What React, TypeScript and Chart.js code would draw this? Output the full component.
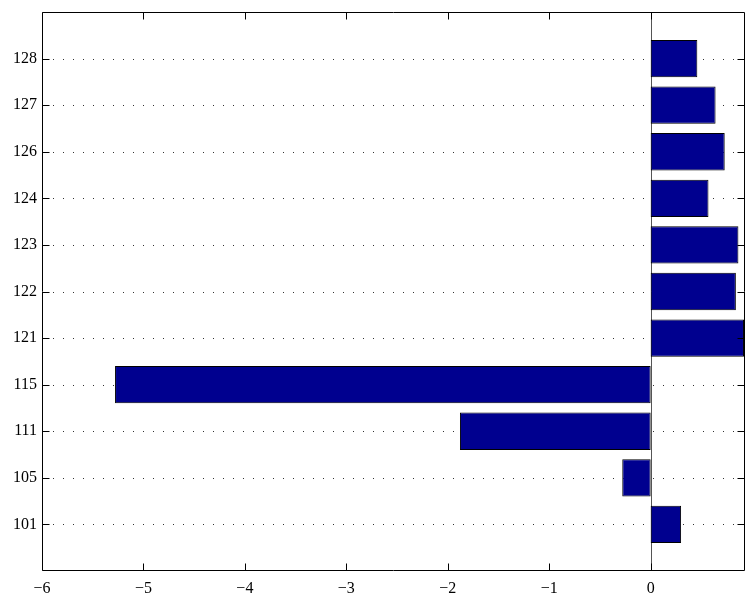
import React, { useEffect, useRef } from 'react';
import { Chart, registerables } from 'chart.js';

Chart.register(...registerables);

// Categories listed bottom to top (y = 1 .. 11)
const categories = ['101', '105', '111', '115', '121', '122', '123', '124', '126', '127', '128'];
const values = [0.30, -0.28, -1.88, -5.28, 0.92, 0.84, 0.865, 0.57, 0.73, 0.64, 0.46];
const xTickValues = [-6, -5, -4, -3, -2, -1, 0];
const X_MIN = -6;
const X_MAX = 0.93;
const Y_MIN = 0;
const Y_MAX = 12;

const FONT = "'Liberation Serif', 'Times New Roman', serif";

const axesPlugin = {
  id: 'matlabAxes',
  beforeDatasetsDraw(chart: any) {
    const { ctx, chartArea: a, scales } = chart;
    const xs = scales.x;
    const ys = scales.y;
    ctx.save();
    ctx.strokeStyle = '#333';
    ctx.lineWidth = 1;
    ctx.setLineDash([1, 9]);
    categories.forEach((_, i) => {
      const py = Math.round(ys.getPixelForValue(i + 1)) + 0.5;
      ctx.beginPath();
      ctx.moveTo(a.left + 1, py);
      ctx.lineTo(a.right - 1, py);
      ctx.stroke();
    });
    ctx.setLineDash([]);
    const zx = Math.round(xs.getPixelForValue(0)) + 0.5;
    ctx.strokeStyle = '#555';
    ctx.beginPath();
    ctx.moveTo(zx, a.top);
    ctx.lineTo(zx, a.bottom);
    ctx.stroke();
    ctx.restore();
  },
  afterDatasetsDraw(chart: any) {
    const { ctx, chartArea: a, scales } = chart;
    const xs = scales.x;
    const ys = scales.y;
    const L = Math.round(a.left) + 0.5;
    const R = Math.round(a.right) - 0.5;
    const T = Math.round(a.top) + 0.5;
    const B = Math.round(a.bottom) - 0.5;
    const tl = 7;
    ctx.save();
    ctx.strokeStyle = '#000';
    ctx.lineWidth = 1;
    ctx.beginPath();
    ctx.rect(L, T, R - L, B - T);
    ctx.stroke();
    xTickValues.forEach((v) => {
      const px = Math.round(xs.getPixelForValue(v)) + 0.5;
      ctx.beginPath();
      ctx.moveTo(px, B);
      ctx.lineTo(px, B - tl);
      ctx.moveTo(px, T);
      ctx.lineTo(px, T + tl);
      ctx.stroke();
    });
    categories.forEach((_, i) => {
      const py = Math.round(ys.getPixelForValue(i + 1)) + 0.5;
      ctx.beginPath();
      ctx.moveTo(L, py);
      ctx.lineTo(L + tl, py);
      ctx.moveTo(R, py);
      ctx.lineTo(R - tl, py);
      ctx.stroke();
    });
    ctx.restore();
  },
};

export default function App() {
  const ref = useRef<HTMLCanvasElement | null>(null);

  useEffect(() => {
    document.body.style.margin = '0';
    const canvas = ref.current;
    if (!canvas) return;
    const data = categories.map((_, i) => ({ x: values[i], y: i + 1 }));
    const chart = new Chart(canvas, {
      type: 'bar',
      data: {
        datasets: [
          {
            data: data as any,
            backgroundColor: '#00008F',
            borderColor: '#000000',
            borderWidth: 1,
            borderSkipped: false,
            barPercentage: 0.8,
            categoryPercentage: 1,
          },
        ],
      },
      options: {
        indexAxis: 'y',
        animation: false,
        responsive: false,
        devicePixelRatio: 1,
        layout: { padding: { top: 12, right: 1, left: 0, bottom: 0 } },
        plugins: { legend: { display: false }, tooltip: { enabled: false } },
        scales: {
          x: {
            type: 'linear',
            min: X_MIN,
            max: X_MAX,
            offset: false,
            grid: { display: false, drawTicks: false },
            border: { display: false },
            afterBuildTicks: (scale: any) => {
              scale.ticks = xTickValues.map((v) => ({ value: v }));
            },
            afterFit: (scale: any) => {
              scale.height = 26;
              scale.paddingLeft = 0;
              scale.paddingRight = 0;
            },
            ticks: {
              autoSkip: false,
              maxRotation: 0,
              padding: 8,
              color: '#000',
              font: { family: FONT, size: 16 },
              callback: (v: any) => (Number(v) < 0 ? '\u2212' + Math.abs(Number(v)) : String(v)),
            },
          },
          y: {
            type: 'linear',
            min: Y_MIN,
            max: Y_MAX,
            offset: false,
            grid: { display: false, drawTicks: false, offset: false },
            border: { display: false },
            afterBuildTicks: (scale: any) => {
              scale.ticks = categories.map((_, i) => ({ value: i + 1 }));
            },
            afterFit: (scale: any) => {
              scale.width = 42;
              scale.paddingTop = 0;
              scale.paddingBottom = 0;
            },
            ticks: {
              autoSkip: false,
              padding: 5,
              color: '#000',
              font: { family: FONT, size: 16 },
              callback: (v: any) => categories[Number(v) - 1] ?? '',
            },
          },
        },
      },
      plugins: [axesPlugin],
    });
    return () => chart.destroy();
  }, []);

  return (
    <div style={{ position: 'absolute', left: 0, top: 0, width: 746, height: 597, background: '#fff' }}>
      <canvas ref={ref} width={746} height={597} style={{ display: 'block' }} />
    </div>
  );
}
